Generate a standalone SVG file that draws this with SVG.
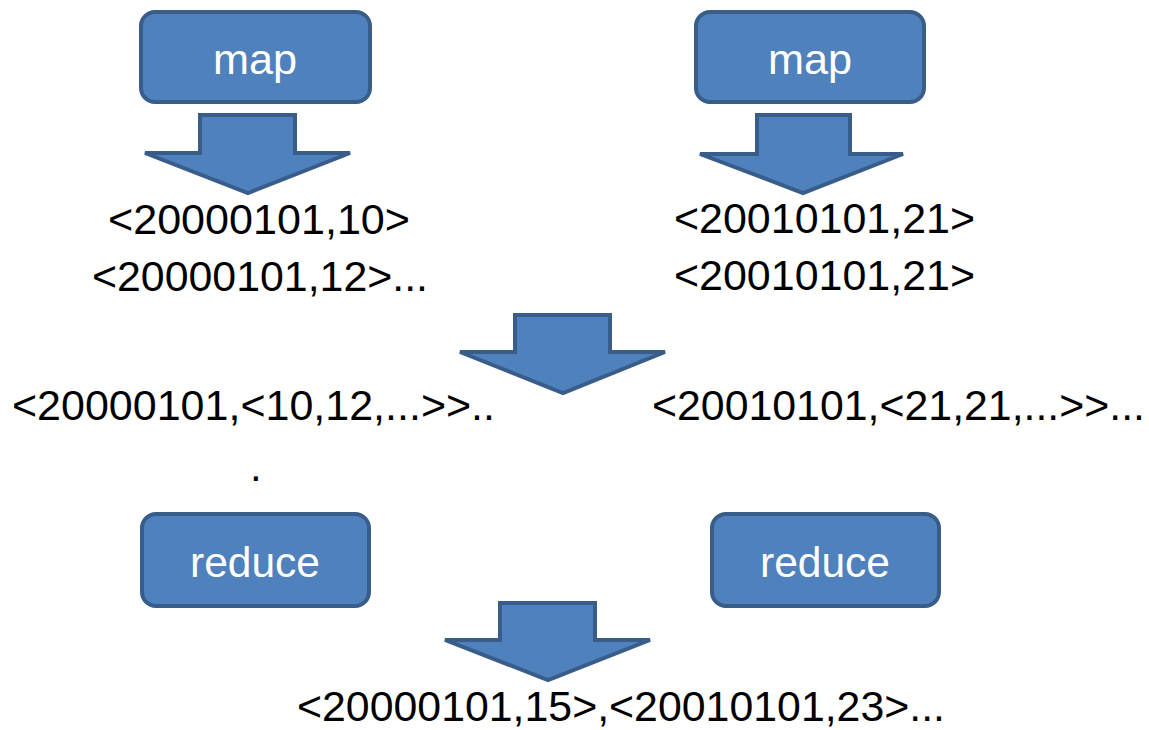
<svg xmlns="http://www.w3.org/2000/svg" width="1149" height="730" viewBox="0 0 1149 730">
<style>
.box{fill:#4F81BD;stroke:#385D8A;stroke-width:4}
.arr{fill:#4F81BD;stroke:#385D8A;stroke-width:4;stroke-linejoin:miter}
.lbl{font-family:"Liberation Sans",Arial,sans-serif;font-size:42px;fill:#FFFFFF;text-anchor:middle}
.t{font-family:"Liberation Sans",Arial,sans-serif;font-size:42px;fill:#000000}
</style>
<rect width="1149" height="730" fill="#FFFFFF"/>
<g id="map1"><rect class="box" x="141" y="12" width="229" height="90" rx="14"/><text class="lbl" x="255" y="74" textLength="84" lengthAdjust="spacingAndGlyphs">map</text></g>
<g id="map2"><rect class="box" x="696" y="12" width="228" height="90" rx="14"/><text class="lbl" x="810" y="74" textLength="84" lengthAdjust="spacingAndGlyphs">map</text></g>
<g id="reduce1"><rect class="box" x="142" y="514" width="227" height="92" rx="14"/><text class="lbl" x="255" y="577" textLength="130" lengthAdjust="spacingAndGlyphs">reduce</text></g>
<g id="reduce2"><rect class="box" x="712" y="514" width="227" height="92" rx="14"/><text class="lbl" x="825" y="577" textLength="130" lengthAdjust="spacingAndGlyphs">reduce</text></g>
<g id="connectors">
<polygon class="arr" points="200,115 295,115 295,153 350,153 248,193 145,153 200,153"/>
<polygon class="arr" points="757,115 850,115 850,154 903,154 803,193 700,154 757,154"/>
<polygon class="arr" points="515,315 610,315 610,352 665,352 563,393 460,352 515,352"/>
<polygon class="arr" points="500,603 595,603 595,640 650,640 548,680 445,640 500,640"/>
</g>
<g id="texts">
<text class="t" x="108" y="234" textLength="302" lengthAdjust="spacingAndGlyphs">&lt;20000101,10&gt;</text>
<text class="t" x="92" y="291" textLength="336" lengthAdjust="spacingAndGlyphs">&lt;20000101,12&gt;...</text>
<text class="t" x="674" y="233" textLength="301" lengthAdjust="spacingAndGlyphs">&lt;20010101,21&gt;</text>
<text class="t" x="674" y="290" textLength="301" lengthAdjust="spacingAndGlyphs">&lt;20010101,21&gt;</text>
<text class="t" x="12" y="420" textLength="483" lengthAdjust="spacingAndGlyphs">&lt;20000101,&lt;10,12,...&gt;&gt;..</text>
<text class="t" x="250" y="481">.</text>
<text class="t" x="652" y="420" textLength="493" lengthAdjust="spacingAndGlyphs">&lt;20010101,&lt;21,21,...&gt;&gt;...</text>
<text class="t" x="297" y="721" textLength="648" lengthAdjust="spacingAndGlyphs">&lt;20000101,15&gt;,&lt;20010101,23&gt;...</text>
</g>
</svg>
